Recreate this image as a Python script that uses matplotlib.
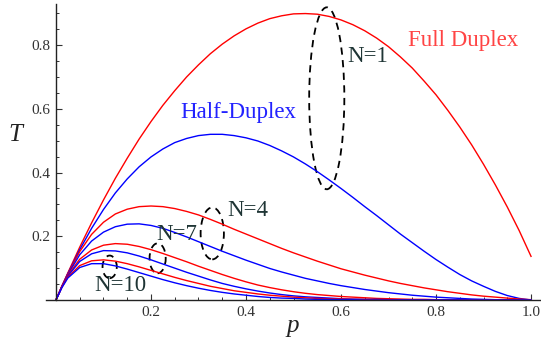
import numpy as np
import matplotlib
matplotlib.use('Agg')
import matplotlib.pyplot as plt
from matplotlib.patches import Ellipse
from matplotlib.ticker import MultipleLocator, FixedLocator

# throughput T vs p
p = [0, 0.0125] + [round(0.025 * i, 3) for i in range(1, 41)]

full_n1 = [0, 0.044, 0.085, 0.166, 0.242, 0.314, 0.382, 0.445, 0.505, 0.560, 0.611, 0.657,
           0.700, 0.738, 0.773, 0.803, 0.829, 0.851, 0.869, 0.883, 0.892, 0.898, 0.899, 0.897,
           0.890, 0.879, 0.864, 0.845, 0.822, 0.795, 0.763, 0.728, 0.687, 0.644, 0.595, 0.543,
           0.487, 0.426, 0.361, 0.292, 0.218, 0.137]
half_n1 = [0, 0.043, 0.083, 0.158, 0.225, 0.284, 0.336, 0.380, 0.418, 0.449, 0.474, 0.494,
           0.507, 0.516, 0.520, 0.520, 0.516, 0.509, 0.499, 0.485, 0.468, 0.449, 0.427, 0.403,
           0.377, 0.350, 0.322, 0.293, 0.265, 0.236, 0.207, 0.180, 0.153, 0.127, 0.103, 0.080,
           0.060, 0.043, 0.027, 0.014, 0.005, 0]
full_n4 = [0, 0.043, 0.082, 0.152, 0.206, 0.244, 0.270, 0.285, 0.293, 0.295, 0.293, 0.287,
           0.278, 0.267, 0.253, 0.238, 0.222, 0.207, 0.192, 0.177, 0.162, 0.148, 0.135, 0.122,
           0.110, 0.098, 0.088, 0.078, 0.069, 0.060, 0.052, 0.045, 0.038, 0.032, 0.026, 0.021,
           0.016, 0.012, 0.009, 0.006, 0.003, 0.001]
half_n4 = [0, 0.042, 0.080, 0.142, 0.185, 0.213, 0.230, 0.238, 0.239, 0.234, 0.225, 0.212,
           0.198, 0.183, 0.168, 0.153, 0.139, 0.125, 0.112, 0.099, 0.088, 0.078, 0.068, 0.060,
           0.052, 0.045, 0.039, 0.033, 0.028, 0.023, 0.019, 0.015, 0.012, 0.009, 0.007, 0.005,
           0.003, 0.002, 0.001, 0.001, 0, 0]
full_n7 = [0, 0.042, 0.078, 0.128, 0.157, 0.172, 0.177, 0.175, 0.168, 0.158, 0.146, 0.133,
           0.120, 0.106, 0.093, 0.080, 0.068, 0.057, 0.047, 0.039, 0.032, 0.026, 0.021, 0.017,
           0.014, 0.011, 0.009, 0.007, 0.005, 0.004, 0.003, 0.002, 0.002, 0.001, 0.001, 0,
           0, 0, 0, 0, 0, 0]
half_n7 = [0, 0.041, 0.075, 0.121, 0.145, 0.155, 0.154, 0.148, 0.138, 0.126, 0.113, 0.100,
           0.087, 0.075, 0.063, 0.052, 0.043, 0.035, 0.028, 0.022, 0.017, 0.013, 0.010, 0.008,
           0.006, 0.004, 0.003, 0.002, 0.002, 0.001, 0.001, 0, 0, 0, 0, 0,
           0, 0, 0, 0, 0, 0]
full_n10 = [0, 0.040, 0.072, 0.108, 0.123, 0.126, 0.122, 0.114, 0.104, 0.093, 0.082, 0.071,
            0.061, 0.052, 0.043, 0.036, 0.029, 0.024, 0.019, 0.015, 0.012, 0.009, 0.007, 0.005,
            0.004, 0.003, 0.002, 0.002, 0.001, 0.001, 0, 0, 0, 0, 0, 0,
            0, 0, 0, 0, 0, 0]
half_n10 = [0, 0.039, 0.069, 0.102, 0.114, 0.114, 0.107, 0.097, 0.086, 0.075, 0.064, 0.054,
            0.045, 0.037, 0.030, 0.024, 0.019, 0.015, 0.011, 0.008, 0.006, 0.005, 0.003, 0.002,
            0.002, 0.001, 0.001, 0, 0, 0, 0, 0, 0, 0, 0, 0,
            0, 0, 0, 0, 0, 0]

full = [full_n1, full_n4, full_n7, full_n10]
half = [half_n1, half_n4, half_n7, half_n10]

serif = 'Liberation Serif'
W, H = 541, 341

fig = plt.figure(figsize=(W / 100, H / 100), dpi=100)
ax = fig.add_axes([46 / W, (H - 300) / H, 495 / W, 296 / H])

for f, h in zip(full, half):
    ax.plot(p, f, c='#ff0000', lw=1.0)
    ax.plot(p, h, c='#0000ff', lw=1.0)

ax.set_xlim(-0.021, 1.021)
ax.set_ylim(0, 0.929)

ax.spines['left'].set_position(('data', 0))
ax.spines['top'].set_visible(False)
ax.spines['right'].set_visible(False)
for s in ['left', 'bottom']:
    ax.spines[s].set_color('#222222')
    ax.spines[s].set_linewidth(1.0)

ax.xaxis.set_major_locator(FixedLocator([0.2, 0.4, 0.6, 0.8, 1.0]))
ax.xaxis.set_minor_locator(MultipleLocator(0.05))
ax.yaxis.set_major_locator(FixedLocator([0.2, 0.4, 0.6, 0.8]))
ax.yaxis.set_minor_locator(MultipleLocator(0.05))
ax.set_xticklabels(['0.2', '0.4', '0.6', '0.8', '1.0'])
ax.set_yticklabels(['0.2', '0.4', '0.6', '0.8'])
ax.tick_params(which='major', direction='in', length=4.5, width=0.8, color='#333333',
               labelsize=11, labelcolor='#333333', pad=4)
ax.tick_params(which='minor', direction='in', length=2.5, width=0.7, color='#333333')
for lab in ax.get_xticklabels() + ax.get_yticklabels():
    lab.set_fontfamily(serif)

# dashed ellipses around each N group
ell = [(0.570, 0.633, 0.074, 0.571),
       (0.329, 0.209, 0.049, 0.163),
       (0.214, 0.131, 0.034, 0.094),
       (0.113, 0.104, 0.030, 0.071)]
for cx, cy, w, h in ell:
    ax.add_patch(Ellipse((cx, cy), w, h, fill=False, ec='black', lw=1.3,
                         ls=(0, (4, 3)), clip_on=False))

lab_c = '#1f3535'
fs = 16.5
ax.text(0.657, 0.763, 'N=1', family=serif, fontsize=fs, color=lab_c, ha='center', va='center')
ax.text(0.404, 0.280, 'N=4', family=serif, fontsize=fs, color=lab_c, ha='center', va='center')
ax.text(0.255, 0.207, 'N=7', family=serif, fontsize=fs, color=lab_c, ha='center', va='center')
ax.text(0.135, 0.047, 'N=10', family=serif, fontsize=fs, color=lab_c, ha='center', va='center')
ax.text(0.857, 0.815, 'Full Duplex', family=serif, fontsize=fs, color='#ff4444', ha='center', va='center')
ax.text(0.383, 0.590, 'Half-Duplex', family=serif, fontsize=fs, color='#2222ff', ha='center', va='center')

fig.text(15 / W, 1 - 135 / H, 'T', family=serif, style='italic', fontsize=18, color='#222222',
         ha='center', va='center')
fig.text(293 / W, 1 - 326 / H, 'p', family=serif, style='italic', fontsize=18, color='#222222',
         ha='center', va='center')

fig.savefig('out.png', dpi=100)
